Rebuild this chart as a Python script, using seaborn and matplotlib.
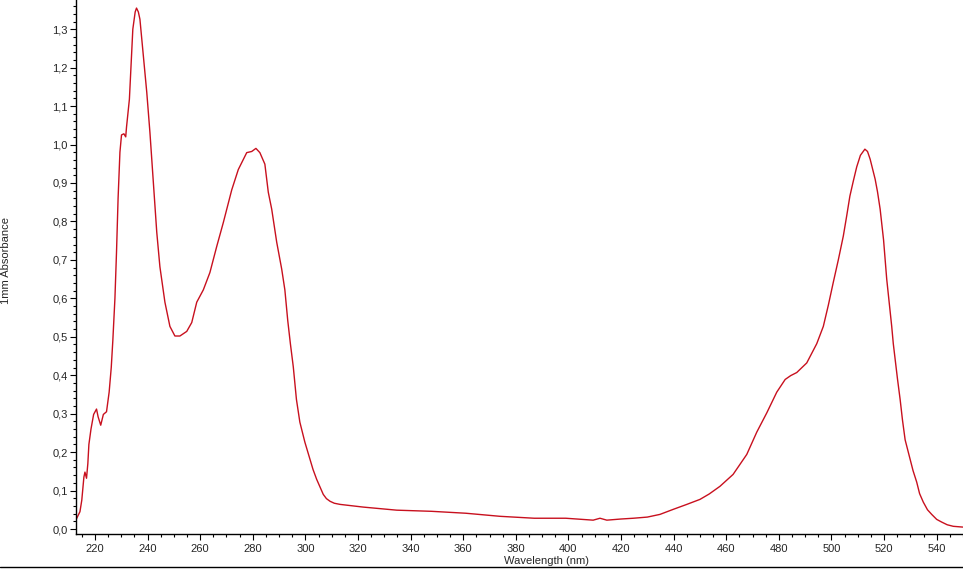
import seaborn as sns
import pandas as pd
import matplotlib.pyplot as plt
from matplotlib.ticker import MultipleLocator, FuncFormatter
from matplotlib.lines import Line2D

# Spectrum
wavelength = [212.8, 213.6, 214.3, 215.0, 215.8, 216.2, 216.8, 217.3, 217.7, 218.5,
              219.5, 220.6, 221.2, 222.2, 223.2, 224.4, 225.4, 226.2, 226.8, 227.6,
              228.2, 228.8, 229.5, 230.1, 231.0, 231.7, 232.0, 233.1, 233.7, 234.4,
              235.3, 235.8, 236.5, 237.1, 238.4, 239.7, 240.9, 241.6, 242.2, 243.5,
              244.7, 246.6, 248.5, 250.4, 252.3, 254.9, 256.8, 258.7, 261.2, 263.7,
              266.3, 268.8, 272.0, 274.5, 277.7, 279.6, 281.2, 282.7, 284.6, 285.9,
              287.2, 289.1, 291.0, 292.2, 293.3, 294.3, 295.4, 296.6, 297.9, 299.8,
              301.7, 302.9, 304.3, 306.8, 308.0, 309.4, 311.0, 313.2, 322.0, 334.7,
              348.0, 361.0, 374.0, 387.0, 399.0, 409.4, 412.0, 414.6, 420.0, 424.7,
              430.0, 434.8, 439.8, 445.0, 450.0, 453.5, 457.6, 462.6, 467.8, 471.6,
              475.4, 479.2, 482.4, 484.5, 486.8, 490.6, 494.4, 496.9, 498.8, 500.7,
              502.6, 504.5, 505.8, 507.0, 508.3, 509.6, 511.0, 512.7, 513.7, 514.7,
              516.6, 517.5, 518.5, 519.8, 520.4, 521.0, 522.9, 523.5, 524.2, 525.1,
              526.1, 527.0, 528.0, 529.9, 531.0, 532.4, 533.5, 534.9, 536.5, 538.1,
              540.0, 541.9, 544.0, 546.3, 549.9]
absorbance = [0.024, 0.035, 0.045, 0.075, 0.135, 0.148, 0.132, 0.17, 0.22, 0.26,
              0.298, 0.312, 0.292, 0.27, 0.298, 0.305, 0.356, 0.42, 0.49, 0.60,
              0.72, 0.86, 0.98, 1.025, 1.028, 1.02, 1.045, 1.118, 1.2, 1.30,
              1.345, 1.355, 1.345, 1.326, 1.232, 1.136, 1.032, 0.96, 0.902, 0.772,
              0.682, 0.59, 0.527, 0.502, 0.502, 0.514, 0.537, 0.59, 0.622, 0.667,
              0.735, 0.797, 0.882, 0.935, 0.979, 0.982, 0.99, 0.979, 0.949, 0.876,
              0.832, 0.746, 0.676, 0.622, 0.542, 0.482, 0.422, 0.337, 0.278, 0.226,
              0.182, 0.155, 0.129, 0.09, 0.079, 0.072, 0.067, 0.064, 0.057, 0.049,
              0.046, 0.041, 0.033, 0.028, 0.028, 0.023, 0.028, 0.023, 0.026, 0.028,
              0.031, 0.038, 0.051, 0.064, 0.077, 0.091, 0.111, 0.142, 0.194, 0.252,
              0.302, 0.356, 0.389, 0.399, 0.407, 0.432, 0.482, 0.527, 0.582, 0.642,
              0.70, 0.762, 0.815, 0.866, 0.905, 0.942, 0.972, 0.988, 0.982, 0.962,
              0.91, 0.877, 0.832, 0.752, 0.70, 0.65, 0.527, 0.482, 0.442, 0.39,
              0.337, 0.283, 0.232, 0.182, 0.152, 0.122, 0.092, 0.07, 0.05, 0.038,
              0.025, 0.018, 0.011, 0.007, 0.005]

df = pd.DataFrame({"Wavelength (nm)": wavelength, "1mm Absorbance": absorbance})

sns.set_style("ticks")
plt.rcParams['font.family'] = ['Liberation Sans', 'DejaVu Sans']

fig = plt.figure(figsize=(9.63, 5.71), dpi=100)
ax = fig.add_axes([76 / 963, 1 - 534 / 571, 887 / 963, 534 / 571])

sns.lineplot(data=df, x="Wavelength (nm)", y="1mm Absorbance", ax=ax,
             color="#c8101e", linewidth=1.0)

ax.set_xlim(212.8, 550)
ax.set_ylim(-0.013, 1.376)

ax.xaxis.set_major_locator(MultipleLocator(20))
ax.xaxis.set_minor_locator(MultipleLocator(5))
ax.yaxis.set_major_locator(MultipleLocator(0.1))
ax.yaxis.set_minor_locator(MultipleLocator(0.02))
ax.yaxis.set_major_formatter(FuncFormatter(lambda v, p: f"{v:.1f}".replace(".", ",")))

ax.tick_params(which="major", length=4, width=0.8, labelsize=8, pad=2, color="black")
ax.tick_params(axis="x", which="major", pad=3)
ax.tick_params(which="minor", length=2.5, width=0.8, color="black")

for side in ["top", "right"]:
    ax.spines[side].set_visible(False)
for side in ["left", "bottom"]:
    ax.spines[side].set_linewidth(1.0)
    ax.spines[side].set_color("black")

ax.set_xlabel("Wavelength (nm)", fontsize=8)
ax.xaxis.set_label_coords(0.531, -0.041)
ax.set_ylabel("1mm Absorbance", fontsize=8, va="center")
ax.yaxis.set_label_coords(-0.079, 0.513)

# frame line along the bottom of the window
fig.add_artist(Line2D([0, 1], [1 - 567 / 571, 1 - 567 / 571], color="black",
                      linewidth=1.0, transform=fig.transFigure))

fig.savefig("out.png", dpi=100)
